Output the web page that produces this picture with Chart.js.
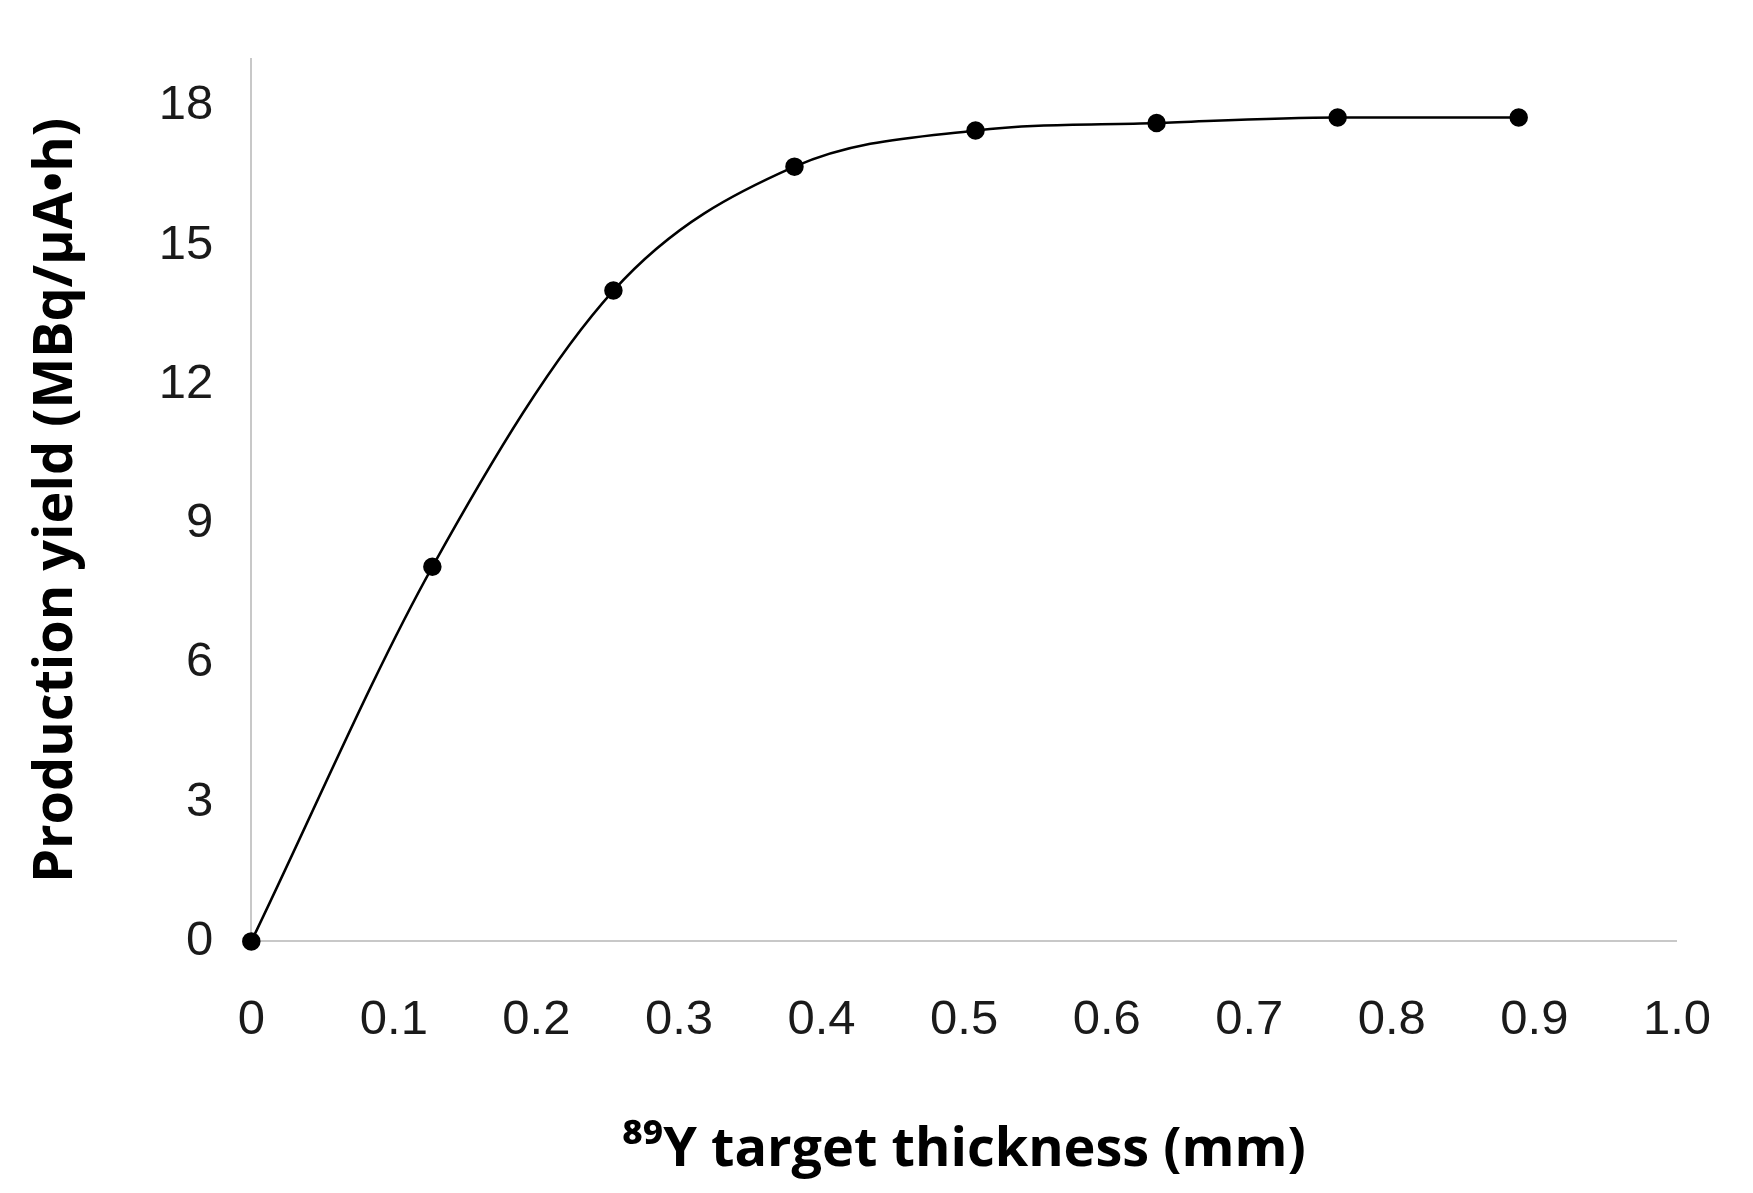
<!DOCTYPE html>
<html>
<head>
<meta charset="utf-8">
<script src="https://cdn.jsdelivr.net/npm/chart.js@4/dist/chart.umd.min.js"></script>
<style>
  html, body { margin: 0; padding: 0; background: #fff; }
  #wrap { width: 1753px; height: 1193px; }
</style>
</head>
<body>
<div id="wrap"><canvas id="yieldChart" width="1753" height="1193"></canvas></div>
<script>
// target thickness (mm) and production yield (MBq/µA·h)
const thickness = [0, 0.127, 0.254, 0.381, 0.508, 0.635, 0.762, 0.889];
const yieldValues = [0, 8.07, 14.02, 16.69, 17.47, 17.63, 17.75, 17.75];
const yTicks = [0, 3, 6, 9, 12, 15, 18];

const tickFont = { family: "'Liberation Sans Narrow', 'Liberation Sans', sans-serif", size: 49 };
const titleFont = { family: "'Open Sans', 'DejaVu Sans', sans-serif", size: 54, weight: 'bold' };

const points = thickness.map((x, i) => ({ x: x, y: yieldValues[i] }));

new Chart(document.getElementById('yieldChart').getContext('2d'), {
    type: 'scatter',
    data: {
        datasets: [{
            data: points,
            showLine: true,
            borderColor: '#000',
            borderWidth: 2.5,
            backgroundColor: '#000',
            pointRadius: 8,
            pointHoverRadius: 8,
            cubicInterpolationMode: 'monotone',
            clip: false
        }]
    },
    options: {
        responsive: false,
        devicePixelRatio: 1,
        animation: false,
        layout: { padding: { top: 0, right: 64, bottom: 6, left: 20 } },
        plugins: { legend: { display: false }, tooltip: { enabled: false } },
        scales: {
            x: {
                type: 'linear',
                min: 0,
                max: 1.0,
                grid: { display: false },
                border: { color: '#c8c8c8', width: 2 },
                ticks: {
                    stepSize: 0.1,
                    color: '#1a1a1a',
                    font: tickFont,
                    padding: 42,
                    callback: v => v === 0 ? '0' : v.toFixed(1)
                },
                title: {
                    display: true,
                    text: '⁸⁹Y target thickness (mm)',
                    color: '#000',
                    font: titleFont,
                    padding: { top: 26 }
                }
            },
            y: {
                min: 0,
                max: 19,
                grid: { display: false },
                border: { color: '#c8c8c8', width: 2 },
                afterBuildTicks: axis => { axis.ticks = yTicks.map(v => ({ value: v })); },
                ticks: {
                    color: '#1a1a1a',
                    font: tickFont,
                    padding: 30
                },
                title: {
                    display: true,
                    text: 'Production yield (MBq/µA•h)',
                    color: '#000',
                    font: titleFont,
                    padding: { bottom: 40 }
                }
            }
        }
    }
});
</script>
</body>
</html>
